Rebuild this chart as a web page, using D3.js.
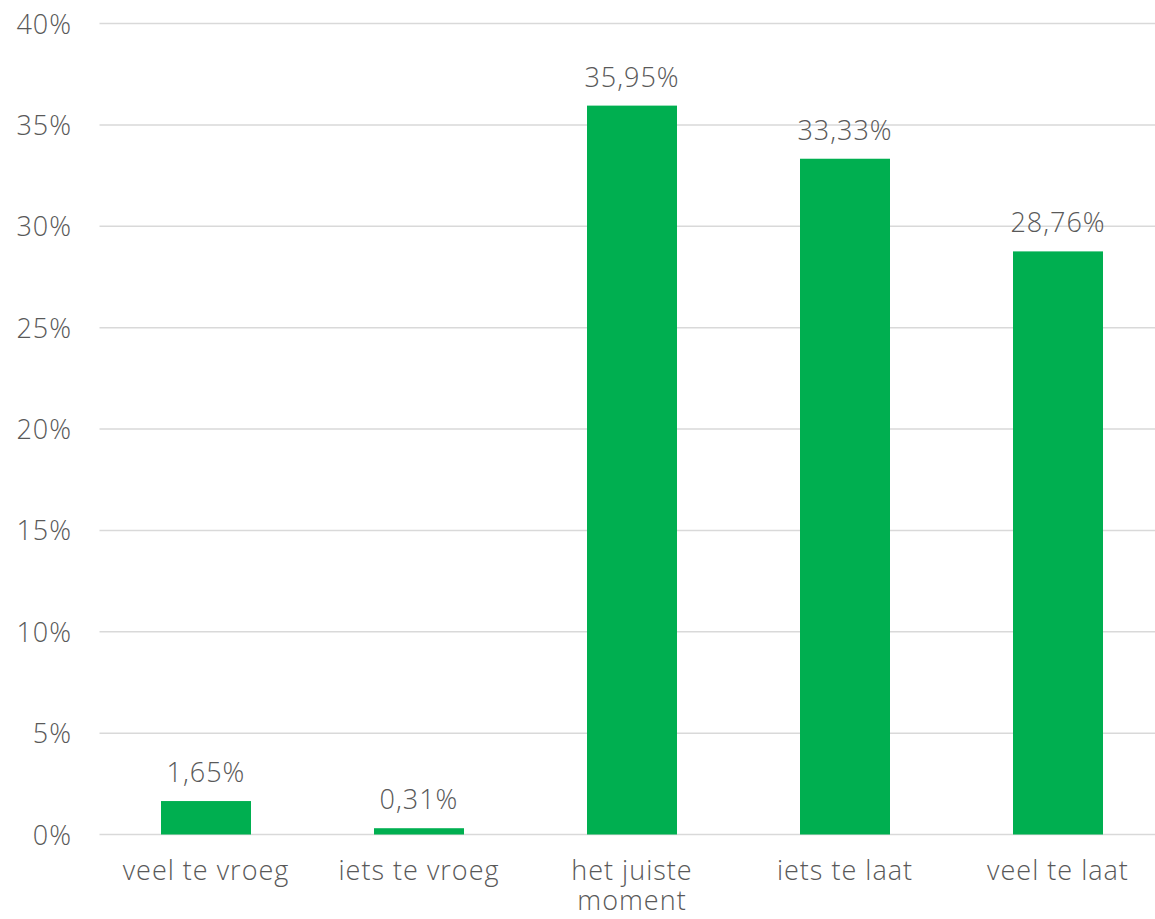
<!DOCTYPE html>
<html>
<head>
<meta charset="utf-8">
<script src="https://cdn.jsdelivr.net/npm/d3@7"></script>
<style>
  html, body { margin: 0; padding: 0; background: #fff; }
  svg { display: block; }
  text { font-family: "Open Sans", "Noto Sans", sans-serif; font-weight: 300; fill: #595959; letter-spacing: 1px; }
</style>
</head>
<body>
<div id="chart"></div>
<script>
const categories = ["veel te vroeg", "iets te vroeg", "het juiste moment", "iets te laat", "veel te laat"];
const categoryLines = [["veel te vroeg"], ["iets te vroeg"], ["het juiste", "moment"], ["iets te laat"], ["veel te laat"]];
const values = [1.65, 0.31, 35.95, 33.33, 28.76];
const valueLabels = ["1,65%", "0,31%", "35,95%", "33,33%", "28,76%"];
const yTicks = [0, 5, 10, 15, 20, 25, 30, 35, 40];

const W = 1155, H = 919;
const mLeft = 99.5, mRight = 1164.5, mTop = 23.5, mBottom = 834.5;

const svg = d3.select("#chart").append("svg").attr("width", W).attr("height", H);

const x = d3.scaleBand().domain(categories).range([mLeft, mRight]).padding(0);
const y = d3.scaleLinear().domain([0, 40]).range([mBottom, mTop]);
const barW = x.bandwidth() * 0.4225;

// gridlines
svg.append("g").selectAll("line").data(yTicks).join("line")
  .attr("x1", mLeft).attr("x2", mRight)
  .attr("y1", d => y(d)).attr("y2", d => y(d))
  .attr("stroke", "#d9d9d9").attr("stroke-width", 1.5);

// y tick labels
svg.append("g").selectAll("text").data(yTicks).join("text")
  .attr("x", 72).attr("y", d => y(d) + 10)
  .attr("text-anchor", "end")
  .attr("font-size", 27)
  .text(d => d + "%");

// bars
svg.append("g").selectAll("rect").data(values).join("rect")
  .attr("x", (d, i) => x(categories[i]) + x.bandwidth() / 2 - barW / 2)
  .attr("width", barW)
  .attr("y", d => y(d))
  .attr("height", d => y(0) - y(d))
  .attr("fill", "#00AF50");

// value labels
svg.append("g").selectAll("text").data(values).join("text")
  .attr("x", (d, i) => x(categories[i]) + x.bandwidth() / 2)
  .attr("y", d => y(d) - 19)
  .attr("text-anchor", "middle")
  .attr("font-size", 27)
  .text((d, i) => valueLabels[i]);

// category labels
const cat = svg.append("g").selectAll("text").data(categories).join("text")
  .attr("x", d => x(d) + x.bandwidth() / 2)
  .attr("y", 880)
  .attr("text-anchor", "middle")
  .attr("font-size", 27);
cat.each(function(d, i) {
  d3.select(this).selectAll("tspan").data(categoryLines[i]).join("tspan")
    .attr("x", x(d) + x.bandwidth() / 2)
    .attr("dy", (t, j) => j === 0 ? 0 : 30)
    .text(t => t);
});
</script>
</body>
</html>
